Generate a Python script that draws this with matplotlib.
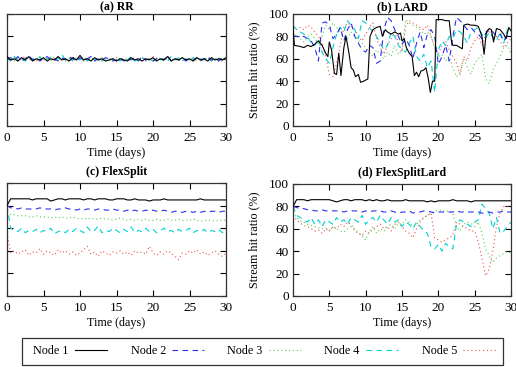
import numpy as np
import matplotlib
matplotlib.use("Agg")
import matplotlib.pyplot as plt
from matplotlib.lines import Line2D
from matplotlib.patches import Rectangle

# Donnees (un point toutes les 0.5 journees)
t = np.arange(0, 30.5, 0.5)

rr_n1 = [62,59,60,58,61,59,62,58,60,59, 61,58,60,59,62,59,60,58,61,59,
         63,59,60,58,61,59,60,58,59,60, 58,60,59,58,61,59,60,58,60,59,
         61,58,60,59,62,58,60,59,61,59, 60,58,61,59,60,58,61,59,60,59, 61]
rr_n2 = [60,61,59,62,58,60,63,59,61,58, 60,62,59,60,58,61,59,62,60,58,
         61,59,60,62,58,60,59,61,60,58, 59,61,58,60,59,61,58,62,59,60,
         58,60,61,59,63,58,60,59,61,58, 60,59,61,58,60,62,59,60,58,61, 60]
rr_n3 = [59,60,58,61,60,59,61,58,60,61, 59,60,58,62,59,61,58,60,59,61,
         60,58,61,59,60,58,61,60,59,60, 58,61,59,60,58,60,59,61,58,60,
         59,61,60,58,61,59,60,58,61,60, 59,61,58,60,59,61,58,60,61,59, 60]
rr_n4 = [61,58,62,59,60,58,61,60,59,62, 58,60,61,59,60,64,59,61,58,60,
         59,62,58,61,59,60,58,61,59,60, 61,58,60,59,62,58,60,61,59,60,
         58,61,59,60,58,62,59,61,58,60, 59,61,58,60,59,61,58,60,59,61, 60]
rr_n5 = [60,59,61,58,60,62,59,60,58,61, 59,60,62,58,61,59,60,58,62,59,
         60,58,61,59,60,59,61,58,60,59, 61,58,60,59,61,60,58,61,59,60,
         62,59,60,58,61,59,60,58,61,59, 60,58,61,59,60,58,61,59,60,58, 60]

# LARD : noeud 1 avec ses propres instants (marches brusques)
lard_t1 = [0,0.2,1,1.5,2,2.5,3,3.5,4,4.5,4.8,5,5.3,5.7,6,6.3,6.6,7,7.3,7.7,
           8,8.3,8.6,9,9.3,9.7,10,10.3,10.6,11,11.5,12,12.3,12.7,13,13.5,14,14.5,14.8,15,
           15.3,15.6,16,16.4,16.7,17,17.3,17.6,18,18.3,18.6,18.9,19.2,19.5,19.7,20,20.5,21,21.5,21.8,
           22,22.5,23,23.3,23.5,24,24.5,25,25.5,26,26.3,26.6,27,27.3,27.6,28,28.5,29,29.3,29.7,30]
lard_n1 = [88,72,71,70,72,71,73,76,72,65,62,75,68,47,46,65,45,70,80,65,
           52,50,44,46,39,40,41,42,80,86,88,89,80,86,84,82,84,82,83,76,
           78,70,65,62,45,48,44,49,50,52,43,30,40,40,95,95,95,94,94,76,
           72,72,70,69,90,91,90,90,89,80,64,84,87,86,75,87,86,82,78,88,85]
lard_n2 = [80,80,79,80,78,76,70,58,92,93, 90,78,82,88,76,86,92,80,74,68,
           66,72,70,56,58,86,97,94,86,80, 73,78,72,60,74,84,70,82,86,80,
           55,62,72,58,80,97,94,90,86,88, 84,82,78,82,86,84,80,82,76,80, 84]
lard_n3 = [78,82,78,75,80,82,78,74,80,90, 86,92,88,84,80,78,84,80,76,74,
           70,66,62,68,64,60,66,62,72,64, 68,95,92,90,88,86,82,84,80,70,
           62,64,58,62,52,44,48,60,52,46, 56,60,64,42,38,50,56,62,70,72, 64]
lard_n4 = [90,86,84,82,80,74,72,78,66,60, 56,70,82,88,84,94,90,86,78,94,
           92,88,84,80,74,68,72,84,80,72, 68,66,74,80,62,58,64,52,58,30,
           68,76,72,80,78,86,84,80,74,84, 86,88,82,78,84,80,76,84,74,86, 88]
lard_n5 = [88,86,88,86,90,88,84,80,74,62, 46,44,56,72,88,92,90,86,80,76,
           82,88,92,78,70,64,72,78,84,74, 66,88,94,92,90,88,86,90,80,70,
           64,72,76,68,62,56,46,62,58,70, 76,80,72,82,86,78,80,76,70,74, 78]

fs_n1 = [80,86,86,86,86,86,86,85,86,86, 86,86,84,85,86,86,85,86,86,86,
         86,85,86,86,85,86,86,86,85,85, 86,86,86,85,85,86,85,85,85,84,
         85,85,85,86,85,85,85,85,85,85, 85,85,85,86,85,85,85,85,85,85, 85]
fs_n2 = [80,78,78,77,78,77,77,77,77,78, 77,77,77,76,77,77,78,77,77,76,
         77,76,77,77,76,77,77,76,76,77, 76,76,75,76,75,76,75,75,76,75,
         76,75,75,76,75,74,75,75,74,75, 75,74,75,74,75,74,75,75,74,75, 75]
fs_n3 = [75,72,72,71,71,71,70,70,71,70, 70,70,69,70,69,70,69,69,70,69,
         68,69,68,69,68,68,69,68,68,67, 68,69,68,67,68,67,68,67,68,67,
         67,68,67,67,68,67,67,68,67,67, 67,68,67,66,67,67,67,66,67,67, 67]
fs_n4 = [80,60,58,57,60,56,58,57,59,56, 58,57,60,55,57,58,56,59,57,60,
         58,56,61,57,58,62,56,58,57,60, 58,56,59,57,61,56,58,57,60,57,
         59,56,58,60,57,58,56,59,57,58, 60,56,58,57,59,56,58,57,59,56, 58]
fs_n5 = [56,38,40,37,39,41,36,39,38,42, 37,40,38,36,41,38,40,37,39,36,
         38,41,44,37,39,35,40,38,36,39, 38,40,37,39,36,40,38,39,37,44,
         38,36,39,37,40,38,35,32,38,37, 40,38,41,37,39,36,38,40,37,35, 38]

fsl_n1 = [80,86,86,86,85,86,86,86,86,86, 86,85,84,85,86,86,85,86,86,86,
          85,86,85,86,85,85,86,85,85,85, 85,86,85,85,85,85,85,84,85,84,
          85,85,85,85,86,85,85,85,85,84, 85,85,85,85,85,85,85,85,85,85, 85]
fsl_n2 = [80,79,78,78,77,77,76,76,77,76, 76,76,76,76,75,76,76,76,76,75,
          76,75,76,76,76,75,75,76,75,74, 75,75,76,74,75,75,76,76,75,74,
          75,75,75,75,75,76,75,75,75,75, 75,75,74,74,75,74,75,75,76,75, 75]
fsl_n3 = [75,70,67,66,64,63,62,61,60,61, 58,62,60,58,57,60,62,60,57,54,
          50,58,62,56,60,58,62,64,60,65, 64,68,66,62,64,68,70,72,74,76,
          76,77,75,76,74,62,58,64,66,65, 62,66,56,42,36,30,34,36,38,40, 38]
fsl_n4 = [80,72,70,68,66,70,64,68,62,68, 66,64,70,66,68,64,70,68,66,72,
          64,68,70,66,72,68,64,70,66,68, 62,66,64,60,66,62,58,56,44,42,
          46,40,47,44,42,64,68,66,64,62, 66,68,82,78,74,60,70,56,58,62, 66]
fsl_n5 = [72,68,65,63,62,60,58,59,56,60, 58,62,60,64,62,66,64,58,56,54,
          58,56,60,62,64,60,62,58,64,66, 62,58,56,52,60,66,70,72,74,52,
          50,48,50,52,54,66,64,62,60,58, 58,48,34,18,24,40,62,74,80,80, 80]

titles = ["(a) RR", "(b) LARD", "(c) FlexSplit", "(d) FlexSplitLard"]
node_labels = ["Node 1", "Node 2", "Node 3", "Node 4", "Node 5"]

# styles facon gnuplot
colors = ["black", "#3030ee", "#50d050", "#00d0d0", "#f05050"]
dashes = [(None, None), (5, 4), (1, 2.5), (5, 4), (1, 2.5)]
LW = 0.8

plt.rcParams['font.family'] = ['Liberation Serif', 'DejaVu Serif']
plt.rcParams['font.size'] = 8.7

fig = plt.figure(figsize=(5.16, 3.67), dpi=100)
W, H = 516.0, 367.0

def box(l, r, top, bot):
    return [l / W, 1 - bot / H, (r - l) / W, (bot - top) / H]

axes = [fig.add_axes(box(7, 226, 14, 126)),
        fig.add_axes(box(293, 511, 14, 126)),
        fig.add_axes(box(7, 226, 183, 296)),
        fig.add_axes(box(293, 511, 184, 296))]

panels = [
    [(t, rr_n1), (t, rr_n2), (t, rr_n3), (t, rr_n4), (t, rr_n5)],
    [(lard_t1, lard_n1), (t, lard_n2), (t, lard_n3), (t, lard_n4), (t, lard_n5)],
    [(t, fs_n1), (t, fs_n2), (t, fs_n3), (t, fs_n4), (t, fs_n5)],
    [(t, fsl_n1), (t, fsl_n2), (t, fsl_n3), (t, fsl_n4), (t, fsl_n5)],
]

for i, (ax, title, series) in enumerate(zip(axes, titles, panels)):
    # on dessine le noeud 1 en dernier pour qu'il reste au dessus
    for k in [4, 3, 2, 1, 0]:
        x, y = series[k]
        line, = ax.plot(x, y, color=colors[k], lw=LW, zorder=3 if k == 0 else 2)
        if dashes[k][0] is not None:
            line.set_dashes(dashes[k])
    ax.set_xlim(0, 30)
    ax.set_ylim(0, 100)
    ax.set_xticks(range(0, 31, 5))
    ax.set_yticks(range(0, 101, 20))
    ax.tick_params(direction='in', top=True, right=True, length=4, width=0.8,
                   labelsize=9.5)
    ax.tick_params(axis='x', pad=4.5)
    ax.tick_params(axis='y', pad=3)
    for s in ax.spines.values():
        s.set_linewidth(0.9)
        s.set_color('#333333')
    # ligne du haut : titre colle au bord de l'image
    ax.set_title(title, fontweight='bold', fontsize=8.5, pad=2.5 if i < 2 else 6)
    ax.set_xlabel("Time (days)", labelpad=2)
    if i % 2 == 1:
        ax.set_ylabel("Stream hit ratio (%)", labelpad=6)
    else:
        # la colonne de gauche est rognee dans l'original : pas d'etiquettes en y
        ax.tick_params(labelleft=False)

# legende en bas, texte puis echantillon
handles = []
for k in range(5):
    h = Line2D([], [], color=colors[k], lw=LW)
    if dashes[k][0] is not None:
        h.set_dashes(dashes[k])
    handles.append(h)

fig.legend(handles, node_labels, loc='center',
           bbox_to_anchor=(31 / W, 1 - 365 / H, 467 / W, 27 / H),
           mode='expand', ncol=5, markerfirst=False, handlelength=2.7,
           frameon=False, borderaxespad=0, borderpad=0.2,
           handletextpad=0.5, columnspacing=1.5)
# cadre de la legende
fig.patches.append(Rectangle((22 / W, 1 - 365 / H), 481 / W, 27 / H,
                             transform=fig.transFigure, fill=False,
                             edgecolor='#333333', lw=0.9))

plt.savefig("out.png", dpi=100)
